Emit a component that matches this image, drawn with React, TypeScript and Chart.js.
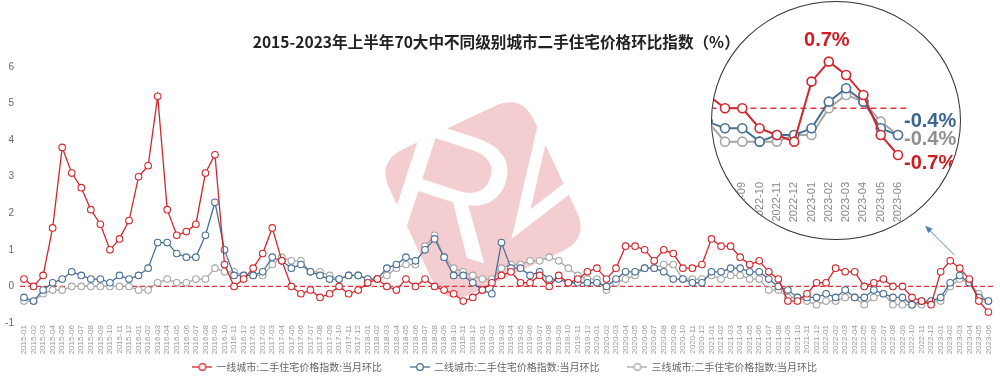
import React, { useEffect, useRef } from 'react';
import { Chart, registerables } from 'chart.js';

Chart.register(...registerables);

const months: string[] = [
  '2015-01','2015-02','2015-03','2015-04','2015-05','2015-06','2015-07','2015-08','2015-09','2015-10','2015-11','2015-12',
  '2016-01','2016-02','2016-03','2016-04','2016-05','2016-06','2016-07','2016-08','2016-09','2016-10','2016-11','2016-12',
  '2017-01','2017-02','2017-03','2017-04','2017-05','2017-06','2017-07','2017-08','2017-09','2017-10','2017-11','2017-12',
  '2018-01','2018-02','2018-03','2018-04','2018-05','2018-06','2018-07','2018-08','2018-09','2018-10','2018-11','2018-12',
  '2019-01','2019-02','2019-03','2019-04','2019-05','2019-06','2019-07','2019-08','2019-09','2019-10','2019-11','2019-12',
  '2020-01','2020-02','2020-03','2020-04','2020-05','2020-06','2020-07','2020-08','2020-09','2020-10','2020-11','2020-12',
  '2021-01','2021-02','2021-03','2021-04','2021-05','2021-06','2021-07','2021-08','2021-09','2021-10','2021-11','2021-12',
  '2022-01','2022-02','2022-03','2022-04','2022-05','2022-06','2022-07','2022-08','2022-09','2022-10','2022-11','2022-12',
  '2023-01','2023-02','2023-03','2023-04','2023-05','2023-06',
];

const tier1: number[] = [
  0.2, 0.0, 0.3, 1.6, 3.8, 3.1, 2.7, 2.1, 1.7, 1.0, 1.3, 1.8,
  3.0, 3.3, 5.2, 2.1, 1.4, 1.5, 1.7, 3.1, 3.6, 0.6, 0.0, 0.2,
  0.5, 0.9, 1.6, 0.7, 0.0, -0.2, -0.1, -0.3, -0.2, 0.0, -0.2, -0.1,
  0.1, 0.2, 0.0, -0.1, 0.2, 0.0, 0.2, 0.0, -0.1, -0.2, -0.4, -0.3,
  -0.1, 0.1, 0.3, 0.4, 0.1, 0.1, 0.3, 0.0, 0.3, 0.1, 0.2, 0.4,
  0.5, 0.2, 0.5, 1.1, 1.1, 1.0, 0.7, 1.0, 0.9, 0.5, 0.5, 0.6,
  1.3, 1.1, 1.1, 0.8, 0.6, 0.7, 0.4, 0.2, -0.4, -0.4, -0.2, 0.1,
  0.1, 0.5, 0.4, 0.4, 0.0, 0.1, 0.2, 0.0, 0.0, -0.3, -0.4, -0.5,
  0.4, 0.7, 0.5, 0.2, -0.4, -0.7,
];

const tier2: number[] = [
  -0.3, -0.4, -0.1, 0.1, 0.2, 0.4, 0.3, 0.2, 0.2, 0.1, 0.3, 0.2,
  0.3, 0.5, 1.2, 1.2, 0.9, 0.8, 0.8, 1.4, 2.3, 1.0, 0.3, 0.3,
  0.3, 0.4, 0.8, 0.7, 0.5, 0.6, 0.4, 0.3, 0.2, 0.2, 0.3, 0.3,
  0.2, 0.2, 0.5, 0.6, 0.8, 0.7, 1.0, 1.3, 0.8, 0.3, 0.3, 0.1,
  -0.1, -0.2, 1.2, 0.5, 0.5, 0.3, 0.4, 0.2, 0.2, 0.1, 0.1, 0.1,
  0.1, 0.0, 0.2, 0.4, 0.4, 0.5, 0.5, 0.4, 0.2, 0.2, 0.1, 0.1,
  0.4, 0.4, 0.5, 0.5, 0.4, 0.4, 0.2, 0.0, -0.1, -0.3, -0.3, -0.3,
  -0.2, -0.3, -0.1, -0.3, -0.3, -0.1, -0.2, -0.3, -0.3, -0.5, -0.4, -0.4,
  -0.3, 0.1, 0.3, 0.1, -0.3, -0.4,
];

const tier3: number[] = [
  -0.4, -0.4, -0.2, -0.1, -0.1, 0.0, 0.0, 0.0, 0.0, 0.0, 0.0, 0.0,
  -0.1, -0.1, 0.1, 0.2, 0.1, 0.1, 0.2, 0.2, 0.5, 0.4, 0.4, 0.3,
  0.3, 0.3, 0.6, 0.8, 0.7, 0.7, 0.4, 0.4, 0.3, 0.2, 0.3, 0.3,
  0.2, 0.2, 0.3, 0.5, 0.6, 0.6, 1.1, 1.4, 0.8, 0.5, 0.4, 0.3,
  0.2, 0.2, 0.5, 0.6, 0.6, 0.7, 0.7, 0.8, 0.7, 0.5, 0.3, 0.2,
  0.2, -0.1, 0.1, 0.2, 0.3, 0.5, 0.5, 0.6, 0.6, 0.2, 0.2, 0.2,
  0.3, 0.2, 0.3, 0.3, 0.2, 0.2, -0.1, -0.1, -0.3, -0.3, -0.4, -0.5,
  -0.4, -0.4, -0.3, -0.3, -0.5, -0.3, -0.2, -0.5, -0.5, -0.5, -0.5, -0.4,
  -0.4, 0.0, 0.2, 0.1, -0.2, -0.4,
];

const seriesNames: string[] = [
  '一线城市:二手住宅价格指数:当月环比',
  '二线城市:二手住宅价格指数:当月环比',
  '三线城市:二手住宅价格指数:当月环比',
];
const seriesColors: string[] = ['#d5262c', '#4a6f95', '#a6a6a6'];
const labelColors: string[] = ['#cf1b22', '#3a6591', '#8f8f8f'];
const titleText = '2015-2023年上半年70大中不同级别城市二手住宅价格环比指数（%）';
const insetStart = 89; // 2022-06

const CJK = "'Noto Sans CJK SC', 'Noto Sans', sans-serif";
const LAT = "'Liberation Sans', Arial, sans-serif";

function legendIcon(color: string) {
  const c = document.createElement('canvas');
  c.width = 20;
  c.height = 10;
  const ctx = c.getContext('2d')!;
  ctx.strokeStyle = color;
  ctx.lineWidth = 1.3;
  ctx.beginPath();
  ctx.moveTo(0, 5);
  ctx.lineTo(20, 5);
  ctx.stroke();
  ctx.beginPath();
  ctx.arc(10, 5, 3.3, 0, Math.PI * 2);
  ctx.fillStyle = '#fff';
  ctx.fill();
  ctx.stroke();
  return c;
}

const watermark = {
  id: 'watermark',
  beforeDatasetsDraw(chart: any) {
    const ctx = chart.ctx;
    ctx.save();
    ctx.translate(483, 200);
    ctx.rotate((-25 * Math.PI) / 180);
    const s = 80, r = 30;
    ctx.beginPath();
    ctx.moveTo(-s + r, -s);
    ctx.lineTo(s - r, -s);
    ctx.quadraticCurveTo(s, -s, s, -s + r);
    ctx.lineTo(s, s - r);
    ctx.quadraticCurveTo(s, s, s - r, s);
    ctx.lineTo(-s + r, s);
    ctx.quadraticCurveTo(-s, s, -s, s - r);
    ctx.lineTo(-s, -s + r);
    ctx.quadraticCurveTo(-s, -s, -s + r, -s);
    ctx.closePath();
    ctx.fillStyle = '#f4cdd0';
    ctx.fill();
    ctx.restore();
    ctx.save();
    ctx.translate(452, 190);
    ctx.rotate((18 * Math.PI) / 180);
    ctx.fillStyle = '#ffffff';
    ctx.font = '170px ' + LAT;
    ctx.textAlign = 'center';
    ctx.textBaseline = 'alphabetic';
    ctx.fillText('R', 0, 60);
    ctx.restore();
    ctx.save();
    ctx.strokeStyle = '#ffffff';
    ctx.lineWidth = 12;
    ctx.beginPath();
    ctx.moveTo(545, 120);
    ctx.lineTo(521, 224);
    ctx.lineTo(594, 168);
    ctx.stroke();
    ctx.restore();
  },
};

const zeroLine = {
  id: 'zeroLine',
  beforeDatasetsDraw(chart: any, _args: any, opts: any) {
    const { ctx, chartArea, scales } = chart;
    const y = scales.y.getPixelForValue(0);
    ctx.save();
    ctx.strokeStyle = '#e2363c';
    ctx.lineWidth = opts.width || 1.3;
    ctx.setLineDash(opts.dash || [5, 3]);
    ctx.beginPath();
    ctx.moveTo(chartArea.left - (opts.extL ?? 4), y);
    ctx.lineTo(chartArea.right + (opts.extR ?? 5), y);
    ctx.stroke();
    ctx.restore();
  },
};

const arrowPlugin = {
  id: 'arrowPlugin',
  afterDatasetsDraw(chart: any) {
    let idx = insetStart;
    for (let i = insetStart; i < tier1.length; i++) if (tier1[i] > tier1[idx]) idx = i;
    const p = chart.getDatasetMeta(0).data[idx];
    const sx = p.x + 4, sy = p.y - 6;
    const ex = sx - 29, ey = sy - 29;
    const ctx = chart.ctx;
    ctx.save();
    ctx.strokeStyle = '#8eaed4';
    ctx.fillStyle = '#4f7fb8';
    ctx.lineWidth = 1.1;
    ctx.beginPath();
    ctx.moveTo(sx, sy);
    ctx.lineTo(ex + 3, ey + 3);
    ctx.stroke();
    const a = Math.atan2(ey - sy, ex - sx);
    ctx.beginPath();
    ctx.moveTo(ex, ey);
    ctx.lineTo(ex - 8 * Math.cos(a - 0.4), ey - 8 * Math.sin(a - 0.4));
    ctx.lineTo(ex - 8 * Math.cos(a + 0.4), ey - 8 * Math.sin(a + 0.4));
    ctx.closePath();
    ctx.fill();
    ctx.restore();
  },
};

// place the legend row: shift horizontally and lift it to the wanted row
const legendPlace = {
  id: 'legendPlace',
  afterLayout(chart: any) {
    const lg = chart.legend;
    if (!lg) return;
    const lab = lg.options.labels;
    const centerNow = lg.top + lab.padding + lab.font.size / 2;
    const dy = 367 - centerNow;
    lg.top += dy;
    lg.bottom += dy;
    lg.left += 9;
    lg.right += 9;
  },
};

const insetLabels = {
  id: 'insetLabels',
  afterDatasetsDraw(chart: any) {
    const ctx = chart.ctx;
    ctx.save();
    ctx.font = 'bold 20px ' + LAT;
    const d0 = chart.data.datasets[0].data as number[];
    let mi = 0;
    d0.forEach((v, i) => { if (v > d0[mi]) mi = i; });
    const pk = chart.getDatasetMeta(0).data[mi];
    ctx.fillStyle = labelColors[0];
    ctx.textAlign = 'center';
    ctx.textBaseline = 'middle';
    ctx.fillText(d0[mi].toFixed(1) + '%', pk.x - 2, pk.y - 21);
    const dy = [8, -13.5, 5];
    ctx.textAlign = 'left';
    chart.data.datasets.forEach((ds: any, i: number) => {
      const meta = chart.getDatasetMeta(i);
      const last = meta.data[meta.data.length - 1];
      const v = ds.data[ds.data.length - 1] as number;
      ctx.fillStyle = labelColors[i];
      ctx.fillText(v.toFixed(1) + '%', last.x + 6, last.y + dy[i]);
    });
    ctx.restore();
  },
};

export default function App() {
  const mainRef = useRef<HTMLCanvasElement>(null);
  const insetRef = useRef<HTMLCanvasElement>(null);

  useEffect(() => {
    Chart.defaults.font.family = LAT;
    const icons = seriesColors.map((c) => legendIcon(c));
    const series = [tier1, tier2, tier3];

    const main = new Chart(mainRef.current as HTMLCanvasElement, {
      type: 'line',
      data: {
        labels: months,
        datasets: series.map((d, i) => ({
          label: seriesNames[i],
          data: d,
          borderColor: seriesColors[i],
          backgroundColor: '#fff',
          borderWidth: 1.3,
          pointRadius: 3.3,
          pointBorderWidth: 1.1,
          pointBackgroundColor: '#fff',
          pointBorderColor: seriesColors[i],
          tension: 0,
          fill: false,
        })),
      },
      options: {
        animation: false,
        responsive: false,
        events: [],
        layout: { padding: { left: 0, right: 7.6, top: 0, bottom: 0 } },
        plugins: {
          title: {
            display: true,
            text: titleText,
            color: '#222',
            font: { size: 15.6, weight: 'bold', family: CJK },
            padding: { top: 32.6, bottom: 15.7 },
          },
          legend: {
            position: 'bottom',
            labels: {
              usePointStyle: true,
              pointStyleWidth: 18,
              padding: 29,
              color: '#666',
              font: { size: 10, family: CJK },
              generateLabels: (chart: any) =>
                chart.data.datasets.map((ds: any, i: number) => ({
                  text: ds.label,
                  fillStyle: '#fff',
                  strokeStyle: seriesColors[i],
                  lineWidth: 1,
                  pointStyle: icons[i],
                  hidden: false,
                  datasetIndex: i,
                  fontColor: '#666',
                })),
            },
          },
          tooltip: { enabled: false },
          zeroLine: { width: 1.3, dash: [5, 3], extL: 4, extR: 5 },
        } as any,
        scales: {
          x: {
            grid: { display: false, drawTicks: false },
            border: { display: false },
            ticks: {
              autoSkip: false,
              maxRotation: 90,
              minRotation: 90,
              padding: 2,
              color: '#9a9a9a',
              font: { size: 8, family: LAT },
            },
            afterFit: (s: any) => { s.height = 33; },
          },
          y: {
            min: -1,
            max: 6,
            grid: { display: false, drawTicks: false },
            border: { display: false },
            ticks: { stepSize: 1, padding: 10, color: '#666', font: { size: 10, family: LAT } },
            afterFit: (s: any) => { s.width = 24; },
          },
        },
      } as any,
      plugins: [watermark, zeroLine, arrowPlugin, legendPlace],
    });

    const inset = new Chart(insetRef.current as HTMLCanvasElement, {
      type: 'line',
      data: {
        labels: months.slice(insetStart),
        datasets: series.map((d, i) => ({
          label: seriesNames[i],
          data: d.slice(insetStart),
          borderColor: seriesColors[i],
          backgroundColor: '#fff',
          borderWidth: 2,
          pointRadius: 4.5,
          pointBorderWidth: 1.6,
          pointBackgroundColor: '#fff',
          pointBorderColor: seriesColors[i],
          tension: 0,
          fill: false,
        })),
      },
      options: {
        animation: false,
        responsive: false,
        events: [],
        layout: { padding: { left: 10.4, right: 102, top: 41.6, bottom: 0 } },
        plugins: {
          title: { display: false },
          legend: { display: false },
          tooltip: { enabled: false },
          zeroLine: { width: 1.6, dash: [6, 4], extL: 0, extR: 9 },
        } as any,
        scales: {
          x: {
            grid: { display: false, drawTicks: false },
            border: { display: false },
            ticks: {
              autoSkip: false,
              maxRotation: 90,
              minRotation: 90,
              padding: 7,
              color: '#8a8a8a',
              font: { size: 11, family: LAT },
            },
            afterFit: (s: any) => { s.height = 65; },
          },
          y: { display: false, min: -1, max: 1 },
        },
      } as any,
      plugins: [zeroLine, insetLabels],
    });

    return () => {
      main.destroy();
      inset.destroy();
    };
  }, []);

  return (
    <div style={{ position: 'absolute', left: 0, top: 0, width: 1000, height: 377, overflow: 'hidden', background: '#fff' }}>
      <canvas ref={mainRef} width={1000} height={405} style={{ position: 'absolute', left: 0, top: 0 }} />
      <div
        style={{
          position: 'absolute',
          left: 711,
          top: 1,
          width: 248,
          height: 237,
          borderRadius: '50%',
          border: '1.5px solid #333',
          overflow: 'hidden',
          background: '#fff',
        }}
      >
        <canvas ref={insetRef} width={320} height={240} style={{ position: 'absolute', left: -32.5, top: -2.5 }} />
      </div>
    </div>
  );
}
